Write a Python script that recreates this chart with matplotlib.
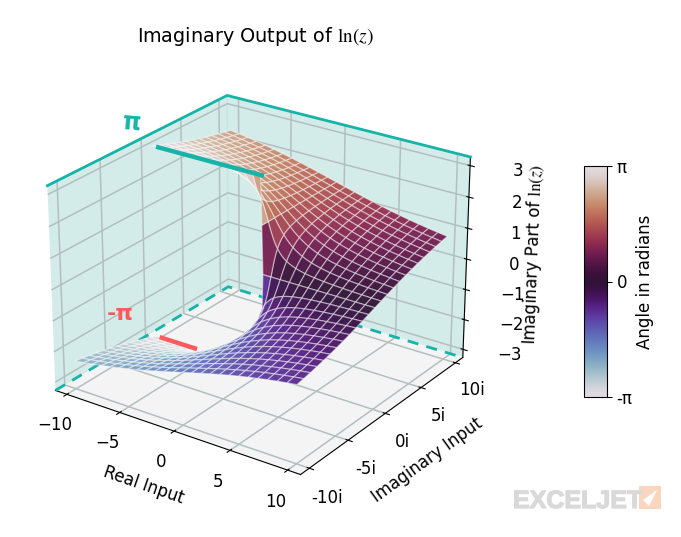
import numpy as np
import matplotlib
matplotlib.use("Agg")
import matplotlib.pyplot as plt
import matplotlib.patheffects as pe
from matplotlib.patches import Rectangle, Polygon
from matplotlib.cm import ScalarMappable
from matplotlib.colors import Normalize

plt.rcParams["mathtext.fontset"] = "stix"
plt.rcParams["font.family"] = "DejaVu Sans"

W, H = 681, 537
TEAL = "#17b3a8"
RED = "#fb5a5f"

real_ticks = [-10, -5, 0, 5, 10]
imag_ticks = [-10, -5, 0, 5, 10]
imag_tick_labels = ["-10i", "-5i", "0i", "5i", "10i"]
angle_ticks = [-3, -2, -1, 0, 1, 2, 3]
bar_ticks = [-np.pi, 0, np.pi]
bar_tick_labels = ["-π", "0", "π"]
real_span = (-10, 10)
imag_span = (-10, 10)
angle_span = (-np.pi, np.pi)
box_half_width = 11.1
upper_cut_real = [-9.5, 0]
lower_cut_real = [-9.5, -6.3]

# Im(ln z) = arg(z), sampled finely on each side of the branch cut;
# the wire mesh is drawn every `stride` samples
cells = 24
stride = 8
x = np.linspace(real_span[0], real_span[1], cells * stride + 1)
y_up = np.linspace(1e-9, imag_span[1], cells // 2 * stride + 1)
X_up, Y_up = np.meshgrid(x, y_up)
Z_up = np.arctan2(Y_up, X_up)
X_lo, Y_lo = np.meshgrid(x, -y_up[::-1])
Z_lo = np.arctan2(Y_lo, X_lo)

fig = plt.figure(figsize=(W / 100, H / 100), dpi=100)
ax = fig.add_axes([-0.0066, 0.0464, 0.7636, 0.8622], projection="3d", computed_zorder=False)
ax.view_init(elev=25, azim=-55)

x0, x1 = -box_half_width, box_half_width
y0, y1 = -box_half_width, box_half_width
zm = (angle_span[1] - angle_span[0]) / 48
z0, z1 = angle_span[0] - zm, angle_span[1] + zm
ax.set_xlim(x0, x1)
ax.set_ylim(y0, y1)
ax.set_zlim(z0, z1)

pane_tint = (0.72, 0.88, 0.86, 0.6)
ax.xaxis.set_pane_color(pane_tint)
ax.yaxis.set_pane_color(pane_tint)
ax.zaxis.set_pane_color((0.955, 0.955, 0.955, 1.0))
for axis in (ax.xaxis, ax.yaxis, ax.zaxis):
    axis._axinfo["grid"]["linewidth"] = 1.1
    axis._axinfo["grid"]["color"] = (0.70, 0.75, 0.75, 1)

ax.plot([x0, x0, x1], [y0, y1, y1], [z0, z0, z0], color=TEAL, lw=2, ls=(0, (4, 3)), zorder=1)
ax.plot([x0, x0, x1], [y0, y1, y1], [z1, z1, z1], color=TEAL, lw=2, zorder=1)

common = dict(cmap="twilight", vmin=-np.pi, vmax=np.pi, rstride=stride, cstride=stride,
              edgecolor=(1, 1, 1, 0.45), linewidth=0.9, alpha=0.95, antialiased=True)
ax.plot_surface(X_up, Y_up, Z_up, zorder=3, **common)
ax.plot_surface(X_lo, Y_lo, Z_lo, zorder=4, **common)
ax.plot(upper_cut_real, [0, 0], [np.pi, np.pi], color=TEAL, lw=3.2, zorder=5)
ax.plot(lower_cut_real, [0, 0], [-np.pi, -np.pi], color=RED, lw=3.2, zorder=5)

ax.set_xticks(real_ticks)
ax.set_yticks(imag_ticks)
ax.set_yticklabels(imag_tick_labels)
ax.set_zticks(angle_ticks)
ax.tick_params(axis="both", labelsize=12)
ax.tick_params(axis="x", pad=4)
ax.tick_params(axis="y", pad=4)
ax.tick_params(axis="z", pad=12.4)
ax.set_xlabel("Real Input", fontsize=12, labelpad=8)
ax.set_ylabel("Imaginary Input", fontsize=12, labelpad=8)
ax.set_zlabel(r"Imaginary Part of $\ln(z)$", fontsize=12, labelpad=8)

fig.text(137 / W, 1 - 36 / H, r"Imaginary Output of $\ln(z)$", fontsize=13.9, va="center", ha="left")
fig.text(132 / W, 1 - 123 / H, "π", color=TEAL, fontsize=17, fontweight="bold", rotation=-5, ha="center", va="center")
fig.text(120 / W, 1 - 314 / H, "-π", color=RED, fontsize=16, fontweight="bold", ha="center", va="center")

cax = fig.add_axes([584 / W, 1 - 397 / H, 23 / W, 231 / H])
cb = fig.colorbar(ScalarMappable(Normalize(*angle_span), "twilight"), cax=cax)
cb.set_ticks(bar_ticks)
cb.set_ticklabels(bar_tick_labels)
cb.ax.tick_params(labelsize=12)
cb.set_label("Angle in radians", fontsize=12, labelpad=2)

# Brand mark in the lower right corner
fig.text(513 / W, 1 - 508 / H, "EXCELJET", color="#d9d9d9", fontsize=18, fontweight="bold",
         family="Liberation Sans", ha="left", va="baseline",
         path_effects=[pe.withStroke(linewidth=0.9, foreground="#d9d9d9")])
to_fig = lambda px, py: (px / W, 1 - py / H)
fig.add_artist(Rectangle(to_fig(639, 509), 22 / W, 23 / H, transform=fig.transFigure,
                         facecolor="#f9d6bd", edgecolor="none"))
fig.add_artist(Polygon([to_fig(643, 500), to_fig(657, 490), to_fig(649, 506)], transform=fig.transFigure,
                       facecolor="white", edgecolor="none"))

fig.savefig("out.png", dpi=100)
